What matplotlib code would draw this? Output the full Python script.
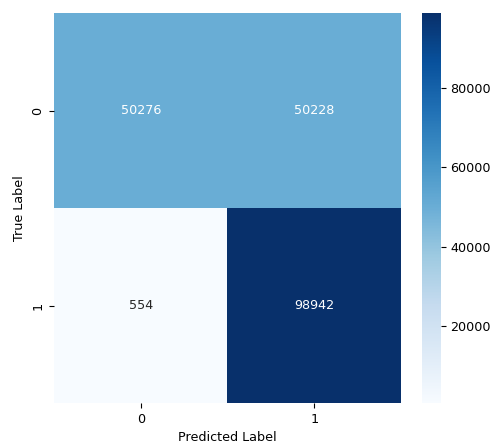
import matplotlib
matplotlib.use("Agg")
import matplotlib.pyplot as plt
import numpy as np
import seaborn as sns

# Confusion matrix counts (rows: true label, columns: predicted label)
class_labels = ["0", "1"]
row_true_0 = [50276, 50228]
row_true_1 = [554, 98942]

cm = np.array([row_true_0, row_true_1])

plt.rcParams["font.size"] = 9.2
fig = plt.figure(figsize=(4.95, 4.44), dpi=100)
ax = fig.add_axes([0.109, 0.0923, 0.701, 0.878])
cax = fig.add_axes([0.8525, 0.0923, 0.038, 0.878])

sns.heatmap(cm, annot=True, fmt="d", cmap="Blues", ax=ax, cbar_ax=cax,
            xticklabels=class_labels, yticklabels=class_labels)
ax.set_xlabel("Predicted Label")
ax.set_ylabel("True Label")
cax.tick_params(labelsize=9.2)

fig.savefig("out.png", dpi=100)
